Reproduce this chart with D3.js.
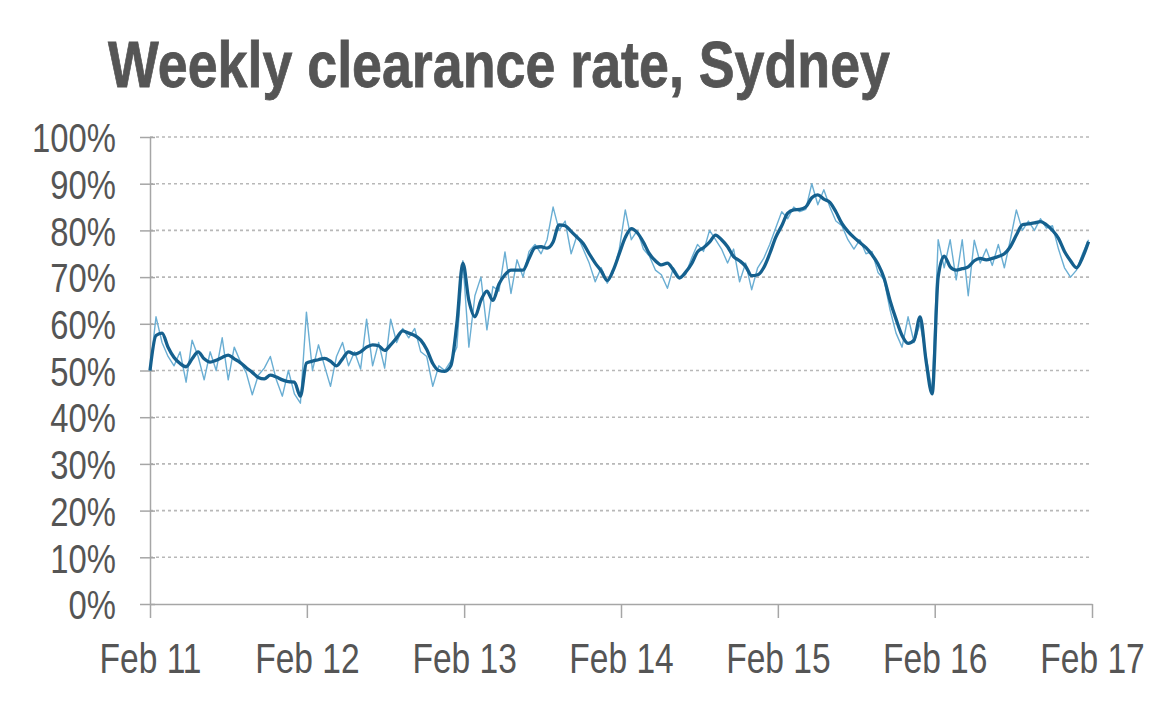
<!DOCTYPE html>
<html><head><meta charset="utf-8">
<script src="https://cdn.jsdelivr.net/npm/d3@7"></script>
<style>
html,body{margin:0;padding:0;background:#fff;}
svg{display:block;}
text{font-family:"Liberation Sans",Arial,sans-serif;fill:#555;}
</style></head>
<body>
<svg id="chart" width="1160" height="704"></svg>
<script>
// ---- data (fortnightly, starting Feb 2011) ----
const startDate = new Date(2011, 1, 1);
const weeklyRate = [50,61.5,56,53,51,54,47.5,56.5,53,48,54,50,57,48,55,52,49.5,44.8,49,50.5,53,48,44.5,50,45,43,
62.5,50,55.5,51,46.6,53,56,51,54,50.3,61,51,56,50.5,61,56,59,57,59,54,53,46.6,51,50,52,55,
73.5,55,66,70,58.7,68,67,75.4,66.5,73.7,70,75.5,77,75,78,85,80,82,75,79,76,73,69,72,68.7,71,
76,84.4,78,80,76,74.5,71.5,70.5,67.6,72,70,70.5,74,77,75.5,80,78,76,73,76,69,73,67.3,72,74,77,
80.5,84,82.5,85,84,84.5,90,85.5,88.7,85,82,81,78,76,78,75,75.5,71,69.5,63,58,55,61.5,56,60,53,
45.5,78,72,78,69.4,78,66,77.9,73,76,72.5,77,72,78,84.4,80,82,80,82.5,80.5,81,76,72,70,71.5,75,78];
const smoothedRate = [50,57.5,58,55,52.8,51.5,50.8,52.5,54,52.5,51.8,52.2,52.8,53.3,52.5,51.7,50.6,49.6,48.5,48.2,49,48.6,48,47.6,47.5,44.5,
51.6,52,52.3,52.6,52,51,52.5,54,53.5,54,55,55.5,55.3,54.3,55.5,57,58.5,58,57.5,56.5,54.5,51.5,50,49.8,51,60,
73,65,61.5,65,67,65,68.5,70.5,71.5,71.5,71.5,74,76.3,76.5,76.2,77.5,81.2,81,79.8,78.5,77.2,75,73,71.3,69.3,71.5,
75,78.5,80.4,79.5,77.5,75,73.5,72.6,73,71.5,69.8,71,72.8,75.4,76.3,77.5,79,78,76.5,74.4,73.5,72.3,70.3,70.5,72,75,
78.5,81,83.7,84.4,84.5,85,87,87.6,86.7,86,84,81.5,79.8,78.5,77.4,76.3,74.8,72.8,69.8,65,61,57.5,55.8,56.5,61.5,52,
45,70,74.5,72.2,71.5,71.8,72.2,73.5,74,73.7,74,74.4,75,76.5,79,81.2,81.4,81.6,81.9,81.2,80,78.3,75.5,73.5,72,74.2,77.6];
const yTicks = [0,10,20,30,40,50,60,70,80,90,100];
const xTickDates = [new Date(2011,1,1),new Date(2012,1,1),new Date(2013,1,1),new Date(2014,1,1),new Date(2015,1,1),new Date(2016,1,1),new Date(2017,1,1)];
const xTickLabels = ["Feb 11","Feb 12","Feb 13","Feb 14","Feb 15","Feb 16","Feb 17"];
const titleText = "Weekly clearance rate, Sydney";

// ---- layout ----
const svg = d3.select("#chart");
const L = 150, R = 1092, T = 137, B = 604;
const SQ = 0.8; // horizontal text compression seen in reference

const x = d3.scaleTime().domain([xTickDates[0], xTickDates[6]]).range([L, R]);
const y = d3.scaleLinear().domain([0, 100]).range([B, T]);
const dateAt = i => d3.timeDay.offset(startDate, i * 14);

function squeeze(sel, k) {
  sel.each(function(){
    const w = this.getComputedTextLength();
    d3.select(this).attr("textLength", w * k).attr("lengthAdjust", "spacingAndGlyphs");
  });
}

// title
const title = svg.append("text").attr("x", 108).attr("y", 87)
  .attr("font-size", 65).attr("font-weight", "bold").attr("fill", "#555")
  .attr("stroke", "#555").attr("stroke-width", 0.8).text(titleText);
title.attr("textLength", 782).attr("lengthAdjust", "spacingAndGlyphs");

// gridlines
svg.append("g").selectAll("line").data(yTicks.filter(d => d > 0)).join("line")
  .attr("x1", L).attr("x2", R).attr("y1", d => y(d)).attr("y2", d => y(d))
  .attr("stroke", "#b8b8b8").attr("stroke-width", 1.6).attr("stroke-dasharray", "3,3");

// y axis
const yAxis = svg.append("g").attr("transform", `translate(${L},0)`)
  .call(d3.axisLeft(y).tickValues(yTicks).tickFormat(d => d + "%").tickSizeInner(10).tickSizeOuter(0).tickPadding(24));
yAxis.select(".domain").attr("stroke", "#a6a6a6").attr("stroke-width", 1.5);
yAxis.selectAll(".tick line").attr("stroke", "#a6a6a6").attr("stroke-width", 1.5).attr("x2", 5).attr("x1", -10);
yAxis.selectAll(".tick text").attr("font-size", 41).attr("fill", "#555").attr("dy", "0.36em")
  .style("font-family", '"Liberation Sans",Arial,sans-serif');
squeeze(yAxis.selectAll(".tick text"), SQ);

// x axis
const xAxis = svg.append("g").attr("transform", `translate(0,${B})`)
  .call(d3.axisBottom(x).tickValues(xTickDates).tickFormat((d, i) => xTickLabels[i]).tickSizeInner(14).tickSizeOuter(0).tickPadding(24));
xAxis.select(".domain").attr("stroke", "#a6a6a6").attr("stroke-width", 1.5);
xAxis.selectAll(".tick line").attr("stroke", "#a6a6a6").attr("stroke-width", 1.5);
xAxis.selectAll(".tick text").attr("font-size", 43).attr("fill", "#555").attr("dy", "0.71em")
  .attr("transform", "scale(0.78,1)")
  .style("font-family", '"Liberation Sans",Arial,sans-serif');

// lines
const line = d3.line().x((d, i) => x(dateAt(i))).y(d => y(d));
svg.append("path").datum(weeklyRate).attr("d", line.curve(d3.curveLinear))
  .attr("fill", "none").attr("stroke", "#6aaed3").attr("stroke-width", 1.4).attr("stroke-linejoin", "round");
svg.append("path").datum(smoothedRate).attr("d", d3.line().x((d, i) => x(dateAt(i))).y(d => y(d)).curve(d3.curveMonotoneX))
  .attr("fill", "none").attr("stroke", "#15608e").attr("stroke-width", 3.3).attr("stroke-linejoin", "round");
</script>
</body></html>
